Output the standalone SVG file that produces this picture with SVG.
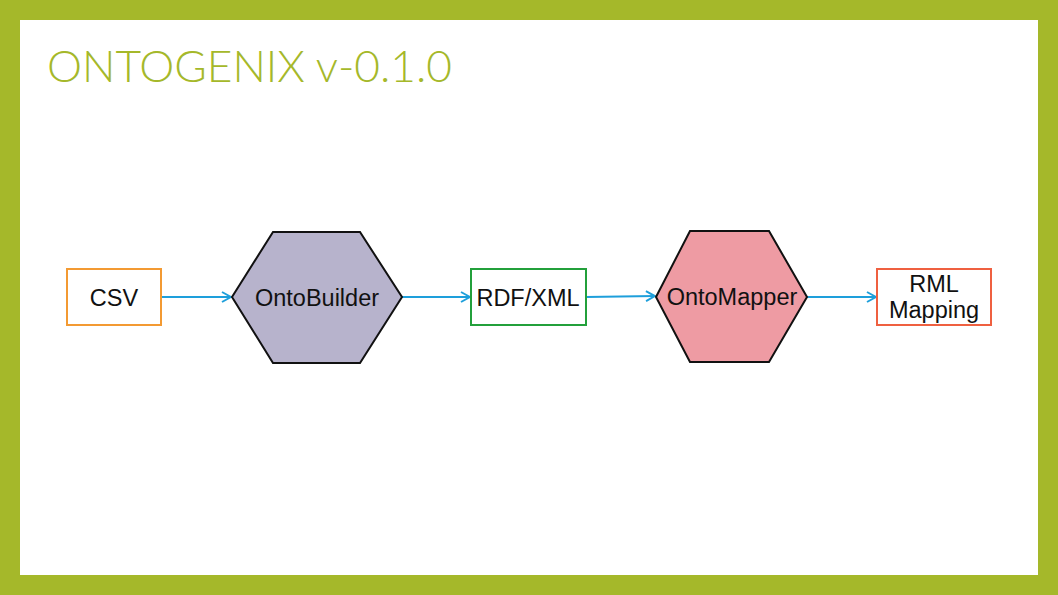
<svg xmlns="http://www.w3.org/2000/svg" width="1058" height="595" viewBox="0 0 1058 595">
<defs>
<style>
.lbl{font-family:"Liberation Sans",Arial,sans-serif;font-size:23.5px;fill:#111;text-anchor:middle}
.box{fill:#fff;stroke-width:2}
.hex{stroke:#111;stroke-width:2}
.conn{stroke:#1E9FDB;stroke-width:2;fill:none}
</style>
<marker id="arr" viewBox="0 0 12 12" refX="11" refY="6" markerWidth="12" markerHeight="12" markerUnits="userSpaceOnUse" orient="auto">
<path d="M2,1 L11,6 L2,11" fill="none" stroke="#1E9FDB" stroke-width="2"/>
</marker>
</defs>
<rect x="0" y="0" width="1058" height="595" fill="#A5B82A"/>
<rect x="20" y="20" width="1018" height="555" fill="#fff"/>
<text x="47" y="82" font-family="Lato,'Open Sans',sans-serif" font-size="44" font-weight="300" fill="#A5B82A" textLength="405" lengthAdjust="spacingAndGlyphs">ONTOGENIX v-0.1.0</text>
<g id="connectors">
<line class="conn" x1="161" y1="297" x2="231" y2="297" marker-end="url(#arr)"/>
<line class="conn" x1="402" y1="297" x2="470" y2="297" marker-end="url(#arr)"/>
<line class="conn" x1="586" y1="297" x2="655" y2="296" marker-end="url(#arr)"/>
<line class="conn" x1="807" y1="297" x2="876" y2="297" marker-end="url(#arr)"/>
</g>
<g id="csv">
<rect class="box" x="67" y="269" width="94" height="56" stroke="#F39A32"/>
<text class="lbl" x="114" y="306">CSV</text>
</g>
<g id="ontobuilder">
<polygon class="hex" points="232,297 273,232 360,232 402,297 360,363 273,363" fill="#B7B3CC"/>
<text class="lbl" x="317" y="306">OntoBuilder</text>
</g>
<g id="rdfxml">
<rect class="box" x="471" y="269" width="115" height="56" stroke="#23A03B"/>
<text class="lbl" x="528" y="306">RDF/XML</text>
</g>
<g id="ontomapper">
<polygon class="hex" points="656,297 690,231 769,231 807,297 769,362 690,362" fill="#EE9BA3"/>
<text class="lbl" x="732" y="305">OntoMapper</text>
</g>
<g id="rml">
<rect class="box" x="877" y="269" width="114" height="56" stroke="#EF6040"/>
<text class="lbl" x="934" y="292">RML</text>
<text class="lbl" x="934" y="318">Mapping</text>
</g>
</svg>
